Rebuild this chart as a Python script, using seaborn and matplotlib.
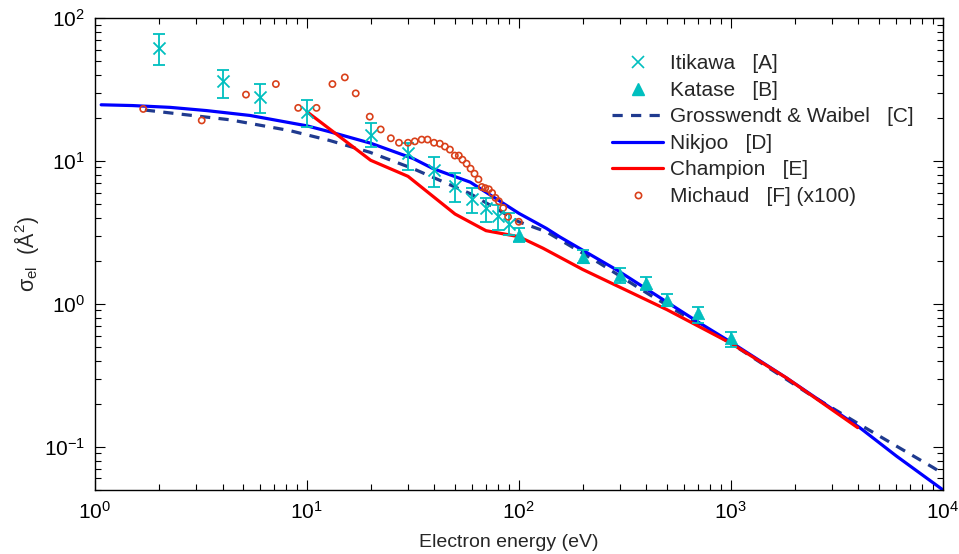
import numpy as np
import pandas as pd
import matplotlib
matplotlib.use("Agg")
import matplotlib.pyplot as plt
from matplotlib.lines import Line2D
import seaborn as sns

# ---------------- data ----------------
itikawa_E = [2, 4, 6, 10, 20, 30, 40, 50, 60, 70, 80, 90]
itikawa_s = [62, 36, 27.8, 22.1, 15.2, 11.3, 8.6, 6.7, 5.45, 4.7, 4.1, 3.6]
itikawa_lo = [47, 27.5, 21.6, 17.2, 12.5, 8.6, 6.56, 5.16, 4.3, 3.75, 3.28, 3.03]
itikawa_hi = [77, 43.3, 34.4, 26.8, 18.3, 13.4, 10.6, 8.2, 6.5, 5.5, 4.95, 4.35]

katase_E = [100, 200, 300, 400, 500, 700, 1000]
katase_s = [3.05, 2.14, 1.59, 1.39, 1.07, 0.86, 0.577]
katase_lo = [2.71, 1.93, 1.40, 1.25, 0.97, 0.73, 0.50]
katase_hi = [3.38, 2.38, 1.78, 1.55, 1.18, 0.95, 0.64]

gw_E = [1.72, 4.33, 8.3, 12.8, 19.8, 31.7, 59, 100, 135, 241, 415, 1000,
        2360, 4060, 6050, 9000, 10000]
gw_s = [22.7, 19.4, 16.3, 13.9, 11.5, 8.83, 5.9, 3.75, 3.19, 1.92, 1.155,
        0.53, 0.232, 0.143, 0.101, 0.0716, 0.065]

nik_E = [1.07, 1.5, 2.26, 3.36, 5.39, 10, 12.8, 20, 31.7, 39.4, 59, 100,
         135, 156, 289, 714, 1000, 1832, 4060, 6050, 10000]
nik_s = [24.7, 24.4, 23.7, 22.5, 20.8, 17.6, 16.0, 13.3, 10.4, 8.83, 7.1,
         4.3, 3.37, 2.94, 1.73, 0.733, 0.54, 0.303, 0.136, 0.086, 0.05]

champ_E = [10, 20, 30, 50, 70, 100, 130, 200, 500, 1000, 1832, 3970]
champ_s = [22.1, 10.1, 7.8, 4.25, 3.25, 2.95, 2.45, 1.74, 0.91, 0.53, 0.303, 0.136]

mich_E = [1.69, 3.19, 5.16, 7.14, 9.1, 11.1, 13.2, 15.1, 17.0, 19.8, 22.3,
          24.9, 27.2, 30, 32.3, 34.8, 37.1, 39.8, 42.4, 44.8, 47.3, 49.9,
          52.1, 54.2, 56.7, 59.2, 61.8, 64.5, 66.9, 69.4, 72.2, 74.8, 77.6,
          80.5, 84.4, 89, 100]
mich_s = [23.1, 19.2, 29.1, 34.5, 23.5, 23.5, 34.5, 38.4, 29.7, 20.4, 16.6,
          14.4, 13.4, 13.4, 13.7, 14.1, 14.1, 13.4, 13.2, 12.6, 12.0, 10.9,
          10.9, 10.2, 9.56, 8.83, 8.14, 7.43, 6.57, 6.45, 6.33, 5.97, 5.51,
          5.22, 4.69, 4.06, 3.75]

labels = ["Itikawa   [A]", "Katase   [B]", "Grosswendt & Waibel   [C]",
          "Nikjoo   [D]", "Champion   [E]", "Michaud   [F] (x100)"]

# ---------------- style ----------------
sns.set_style("ticks")
plt.rcParams["font.family"] = ["Liberation Sans", "DejaVu Sans"]
plt.rcParams["mathtext.fontset"] = "custom"
plt.rcParams["mathtext.rm"] = "Liberation Sans"
plt.rcParams["mathtext.it"] = "Liberation Sans"

cyan = "#00BFBF"
navy = "#1F3A8F"
blue = "#0000FF"
red = "#FF0000"
orange = "#D9401A"

fig = plt.figure(figsize=(9.59, 5.54), dpi=100)
ax = fig.add_axes([0.099, 0.116, 0.884, 0.8515])
ax.set_xscale("log")
ax.set_yscale("log")

dash = (0, (3.2, 2.6))
# lines
sns.lineplot(x=gw_E, y=gw_s, ax=ax, color=navy, lw=2.3, sort=False,
             estimator=None, linestyle=dash)
sns.lineplot(x=nik_E, y=nik_s, ax=ax, color=blue, lw=2.3, sort=False,
             estimator=None)
sns.lineplot(x=champ_E, y=champ_s, ax=ax, color=red, lw=2.3, sort=False,
             estimator=None)

# Michaud
sns.scatterplot(x=mich_E, y=mich_s, ax=ax, marker="o", s=20,
                facecolor="none", edgecolor=orange, linewidth=1.2, zorder=5)

# Itikawa with error bars
it_err = [np.array(itikawa_s) - np.array(itikawa_lo),
          np.array(itikawa_hi) - np.array(itikawa_s)]
ax.errorbar(itikawa_E, itikawa_s, yerr=it_err, fmt="none", ecolor=cyan,
            elinewidth=1.3, capsize=4.5, capthick=1.3, zorder=4)
sns.scatterplot(x=itikawa_E, y=itikawa_s, ax=ax, marker="x", s=75,
                color=cyan, linewidth=1.3, zorder=6)

# Katase with error bars
ka_err = [np.array(katase_s) - np.array(katase_lo),
          np.array(katase_hi) - np.array(katase_s)]
ax.errorbar(katase_E, katase_s, yerr=ka_err, fmt="none", ecolor=cyan,
            elinewidth=1.3, capsize=4.5, capthick=1.3, zorder=4)
sns.scatterplot(x=katase_E, y=katase_s, ax=ax, marker="^", s=80,
                color=cyan, edgecolor=cyan, linewidth=0.5, zorder=6)

ax.set_xlim(1, 1e4)
ax.set_ylim(0.05, 100)

ax.tick_params(which="both", direction="in", top=True, right=True,
               labelsize=15, colors="black")
ax.tick_params(axis="x", which="major", pad=8)
ax.tick_params(axis="y", which="major", pad=7)
ax.tick_params(which="major", length=7, width=0.8)
ax.tick_params(which="minor", length=4, width=0.8)
for sp in ax.spines.values():
    sp.set_linewidth(1.0)
    sp.set_color("black")

ax.set_xlabel("Electron energy (eV)", fontsize=14)
ax.set_ylabel(r"$\sigma_{\mathrm{el}}$  (Å$^2$)", fontsize=15.5)
ax.xaxis.set_label_coords(0.488, -0.093)
ax.yaxis.set_label_coords(-0.064, 0.5)

handles = [
    Line2D([], [], color=cyan, marker="x", ls="none", markersize=8, mew=1.2),
    Line2D([], [], color=cyan, marker="^", ls="none", markersize=9),
    Line2D([], [], color=navy, lw=2.3, ls=dash),
    Line2D([], [], color=blue, lw=2.3),
    Line2D([], [], color=red, lw=2.3),
    Line2D([], [], color=orange, marker="o", ls="none", markersize=4.5,
           mfc="none", mew=1.2),
]
leg = ax.legend(handles, labels, loc="upper left",
                bbox_to_anchor=(0.6295, 0.917), bbox_transform=fig.transFigure,
                frameon=False, fontsize=15, handlelength=2.45,
                handletextpad=0.33, labelspacing=0.36, borderpad=0.4,
                borderaxespad=0)

fig.savefig("out.png", dpi=100)
